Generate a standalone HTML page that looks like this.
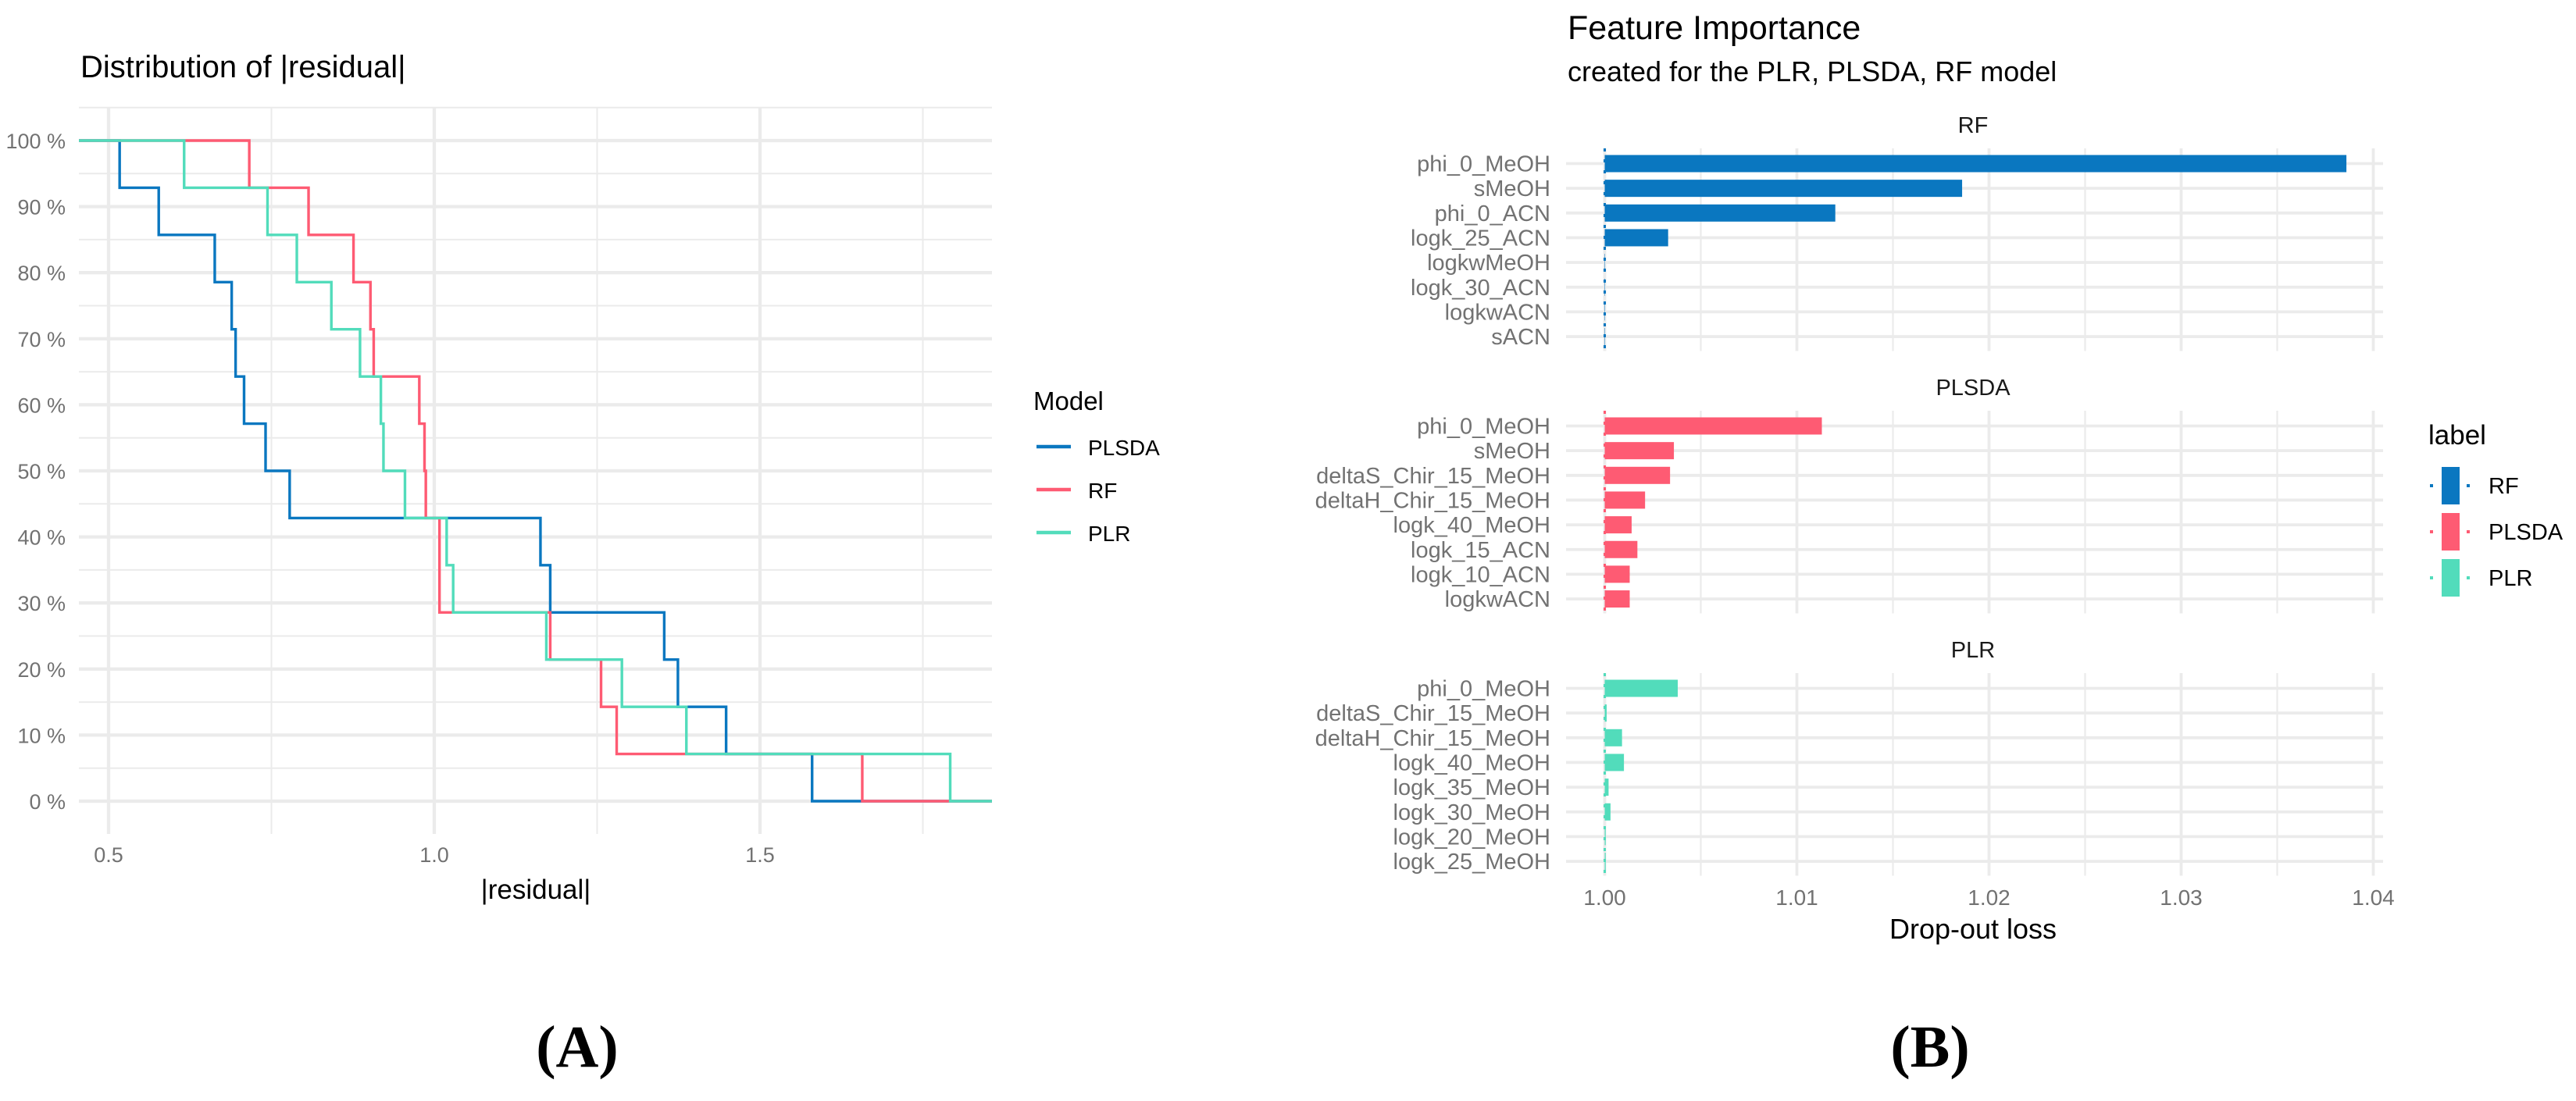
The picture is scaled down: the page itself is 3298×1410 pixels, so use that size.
<!DOCTYPE html>
<html><head><meta charset="utf-8"><style>
html,body{margin:0;padding:0;background:#fff;}
svg{display:block;font-family:"Liberation Sans",Arial,sans-serif;}
</style></head><body>
<svg id="fig" width="3298" height="1410" viewBox="0 0 3298 1410" xmlns="http://www.w3.org/2000/svg">
<rect width="3298" height="1410" fill="#fff"/>
<g id="chartA"></g>
<g id="chartB"></g>
<text x="739" y="1366" text-anchor="middle" font-family="'Liberation Serif',serif" font-weight="bold" font-size="76">(A)</text>
<text x="2471" y="1366" text-anchor="middle" font-family="'Liberation Serif',serif" font-weight="bold" font-size="76">(B)</text>
</svg>
<script>
// ---- Chart A data ----
const seriesNames = ["PLSDA", "RF", "PLR"];
const residPLSDA = [0.517,0.577,0.663,0.689,0.695,0.708,0.741,0.778,1.163,1.178,1.353,1.374,1.448,1.580];
const residRF = [0.716,0.807,0.876,0.902,0.907,0.977,0.985,0.987,1.008,1.008,1.178,1.256,1.280,1.657];
const residPLR = [0.616,0.744,0.789,0.842,0.886,0.918,0.922,0.955,1.019,1.029,1.172,1.288,1.387,1.792];
const xTicksA = [0.5, 1.0, 1.5];
const xTickLabelsA = ["0.5", "1.0", "1.5"];
const yTicksA = [0,10,20,30,40,50,60,70,80,90,100];

// ---- Chart B data ----
const panelNames = ["RF", "PLSDA", "PLR"];
const featRF = ["phi_0_MeOH","sMeOH","phi_0_ACN","logk_25_ACN","logkwMeOH","logk_30_ACN","logkwACN","sACN"];
const lossRF = [1.0386,1.0186,1.0120,1.0033,1.0000,1.0000,1.0000,1.0000];
const featPLSDA = ["phi_0_MeOH","sMeOH","deltaS_Chir_15_MeOH","deltaH_Chir_15_MeOH","logk_40_MeOH","logk_15_ACN","logk_10_ACN","logkwACN"];
const lossPLSDA = [1.0113,1.0036,1.0034,1.0021,1.0014,1.0017,1.0013,1.0013];
const featPLR = ["phi_0_MeOH","deltaS_Chir_15_MeOH","deltaH_Chir_15_MeOH","logk_40_MeOH","logk_35_MeOH","logk_30_MeOH","logk_20_MeOH","logk_25_MeOH"];
const lossPLR = [1.0038,1.0001,1.0009,1.0010,1.0002,1.0003,1.00005,1.00005];
const baselineLoss = 1.0;
const xTicksB = [1.00,1.01,1.02,1.03,1.04];
const xTickLabelsB = ["1.00","1.01","1.02","1.03","1.04"];

const NS = "http://www.w3.org/2000/svg";
const colorsA = {PLSDA:"#0a77c0", RF:"#fe5b73", PLR:"#52dcbb"};
const colorsB = {PLSDA:"#fe5b73", RF:"#0a77c0", PLR:"#52dcbb"};
const gridCol = "#ebebeb";
function mk(parent, tag, attrs, txt){
  const e = document.createElementNS(NS, tag);
  for (const k in attrs) e.setAttribute(k, attrs[k]);
  if (txt !== undefined) e.textContent = txt;
  parent.appendChild(e); return e;
}

// ================= Chart A =================
(function(){
  const g = document.getElementById('chartA');
  const L=101, R=1270, T=138, B=1068;
  const x = v => 139 + (v-0.5)*834;
  const y = p => 1026 - p*8.46;
  const t1 = mk(g,'text',{x:103,y:99,'font-size':40,fill:'#000'},'Distribution of |residual|');
  
  
  for (let p=5; p<=105; p+=10){
    const l = mk(g,'line',{x1:L,x2:R,y1:y(p),y2:y(p),stroke:gridCol,'stroke-width':2});
    
    
  }
  for (let v=0.75; v<1.9; v+=0.5){
    const l = mk(g,'line',{x1:x(v),x2:x(v),y1:T,y2:B,stroke:gridCol,'stroke-width':2});
    
    
  }
  yTicksA.forEach(p=>{
    const l = mk(g,'line',{x1:L,x2:R,y1:y(p),y2:y(p),stroke:gridCol,'stroke-width':4.3});
    
    
    const t = mk(g,'text',{x:84,y:y(p)+10,'text-anchor':'end','font-size':27,fill:'#727272'},p+' %');
    
    
  });
  xTicksA.forEach((v,i)=>{
    const l = mk(g,'line',{x1:x(v),x2:x(v),y1:T,y2:B,stroke:gridCol,'stroke-width':4.3});
    
    
    const t = mk(g,'text',{x:x(v),y:1104,'text-anchor':'middle','font-size':27,fill:'#727272'},xTickLabelsA[i]);
    
    
  });
  const xt = mk(g,'text',{x:686,y:1151,'text-anchor':'middle','font-size':35,fill:'#000'},'|residual|');
  
  
  const data = {PLSDA:residPLSDA, RF:residRF, PLR:residPLR};
  const cp = mk(g,'clipPath',{id:'clipA'});
  mk(cp,'rect',{x:L,y:T-10,width:R-L,height:B-T+20});
  seriesNames.forEach(name=>{
    const arr = data[name], n = arr.length;
    let d = 'M'+L+','+y(100);
    arr.forEach((v,i)=>{ d += ' H'+x(v)+' V'+y(100*(1-(i+1)/n)); });
    d += ' H'+R;
    const p = mk(g,'path',{d:d,fill:'none',stroke:colorsA[name],'stroke-width':3.4,'clip-path':'url(#clipA)'});
    
    
  });
  const lt = mk(g,'text',{x:1323,y:525,'font-size':33,fill:'#000'},'Model');
  
  
  seriesNames.forEach((name,i)=>{
    const yy = 572 + i*55;
    const k = mk(g,'line',{x1:1327,x2:1371,y1:yy,y2:yy,stroke:colorsA[name],'stroke-width':4.5});
    
    
    const t = mk(g,'text',{x:1393,y:yy+11,'font-size':28,fill:'#000'},name);
    
    
  });
})();

// ================= Chart B =================
(function(){
  const g = document.getElementById('chartB');
  const L=2005, R=3051;
  const x = v => 2054.5 + (v-1.0)*24600;
  const t1 = mk(g,'text',{x:2007,y:50,'font-size':43,fill:'#000'},'Feature Importance');
  
  
  const t2 = mk(g,'text',{x:2007,y:104,'font-size':36,fill:'#000'},'created for the PLR, PLSDA, RF model');
  
  
  const feats = {RF:featRF, PLSDA:featPLSDA, PLR:featPLR};
  const losses = {RF:lossRF, PLSDA:lossPLSDA, PLR:lossPLR};
  panelNames.forEach((name,pi)=>{
    const top = 190 + pi*336, bot = top + 259.5;
    const rowY = i => top + 19.5 + i*31.65;
    const st = mk(g,'text',{x:2526,y:top-20,'text-anchor':'middle','font-size':29,fill:'#1a1a1a'},name);
    
    
    for (let v=1.005; v<1.04; v+=0.01){
      const l = mk(g,'line',{x1:x(v),x2:x(v),y1:top,y2:bot,stroke:gridCol,'stroke-width':2.2});
      
      
    }
    xTicksB.forEach(v=>{
      const l = mk(g,'line',{x1:x(v),x2:x(v),y1:top,y2:bot,stroke:gridCol,'stroke-width':3.8});
      
      
    });
    feats[name].forEach((f,i)=>{
      const yy = rowY(i);
      const l = mk(g,'line',{x1:L,x2:R,y1:yy,y2:yy,stroke:gridCol,'stroke-width':3.8});
      
      
      const t = mk(g,'text',{x:1985,y:yy+10,'text-anchor':'end','font-size':29,fill:'#727272'},f);
      
      
      const v = losses[name][i];
      const x0 = x(baselineLoss), x1 = x(v);
      const b = mk(g,'rect',{x:Math.min(x0,x1),y:yy-11,width:Math.max(Math.abs(x1-x0),0.5),height:22,fill:colorsB[name]});
      
      
    });
    const dl = mk(g,'line',{x1:x(baselineLoss),x2:x(baselineLoss),y1:top,y2:bot,stroke:colorsB[name],'stroke-width':3,'stroke-dasharray':'4 10'});
    
    
  });
  xTicksB.forEach((v,i)=>{
    const t = mk(g,'text',{x:x(v),y:1159,'text-anchor':'middle','font-size':28,fill:'#727272'},xTickLabelsB[i]);
    
    
  });
  const xt = mk(g,'text',{x:2526,y:1202,'text-anchor':'middle','font-size':36,fill:'#000'},'Drop-out loss');
  
  
  const lt = mk(g,'text',{x:3109,y:569,'font-size':35,fill:'#000'},'label');
  
  
  panelNames.forEach((name,i)=>{
    const top = 598 + i*59;
    const r = mk(g,'rect',{x:3126,y:top,width:23,height:48,fill:colorsB[name]});
    
    
    mk(g,'rect',{x:3111,y:top+22,width:4,height:4,fill:colorsB[name]});
    mk(g,'rect',{x:3158,y:top+22,width:4,height:4,fill:colorsB[name]});
    const t = mk(g,'text',{x:3186,y:top+34,'font-size':29,fill:'#000'},name);
    
    
  });
})();
</script>
</body></html>
